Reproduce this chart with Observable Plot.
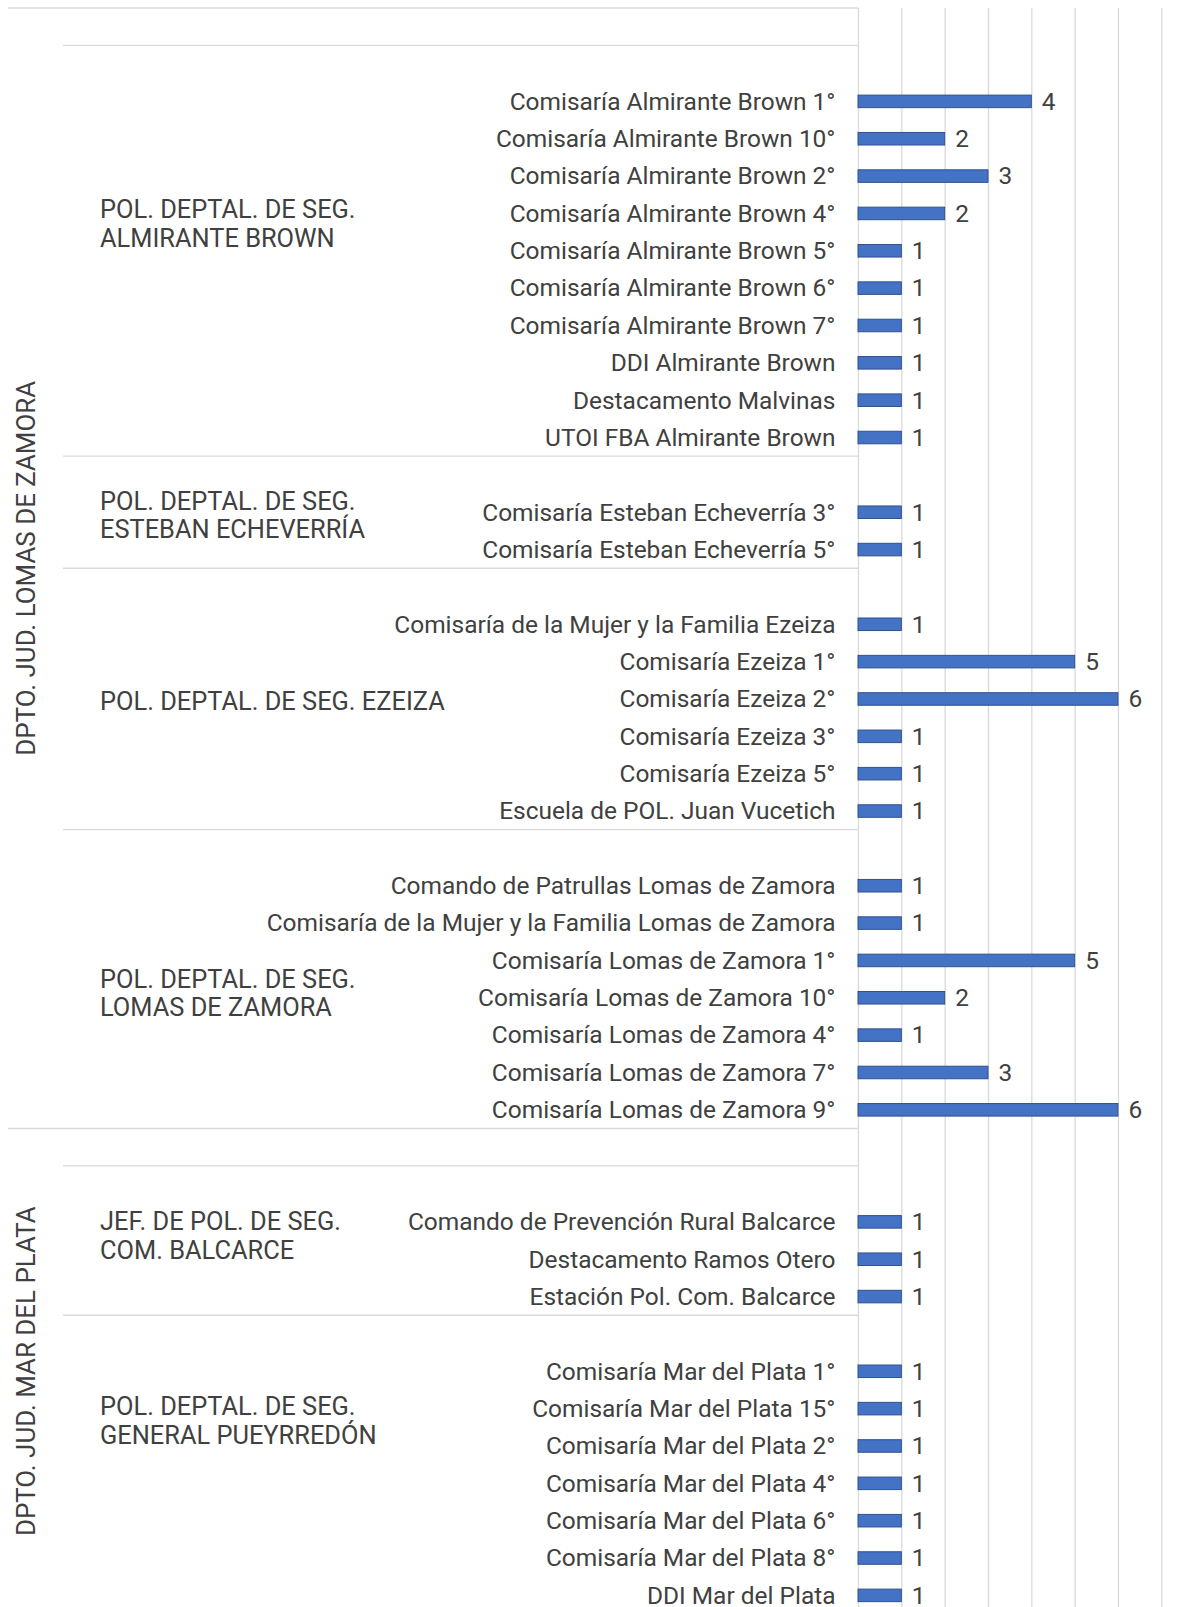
<!DOCTYPE html>
<html>
<head>
<meta charset="utf-8">
<script src="https://cdn.jsdelivr.net/npm/d3@7"></script>
<script src="https://cdn.jsdelivr.net/npm/@observablehq/plot@0.6"></script>
<style>
  html, body { margin: 0; padding: 0; background: #ffffff; overflow: hidden; }
  #chart svg { display: block; }
</style>
</head>
<body>
<div id="chart"></div>
<script>
// ---------------- DATA ----------------
const departamentos = ["DPTO. JUD. LOMAS DE ZAMORA", "DPTO. JUD. MAR DEL PLATA"];

const jefaturas = [
  "",
  "POL. DEPTAL. DE SEG.\nALMIRANTE BROWN",
  "POL. DEPTAL. DE SEG.\nESTEBAN ECHEVERRÍA",
  "POL. DEPTAL. DE SEG. EZEIZA",
  "POL. DEPTAL. DE SEG.\nLOMAS DE ZAMORA",
  "",
  "JEF. DE POL. DE SEG.\nCOM. BALCARCE",
  "POL. DEPTAL. DE SEG.\nGENERAL PUEYRREDÓN"
];
const jefaturaDepto = [0, 0, 0, 0, 0, 1, 1, 1];

const almiranteBrown = ["Comisaría Almirante Brown 1°", "Comisaría Almirante Brown 10°", "Comisaría Almirante Brown 2°", "Comisaría Almirante Brown 4°", "Comisaría Almirante Brown 5°", "Comisaría Almirante Brown 6°", "Comisaría Almirante Brown 7°", "DDI Almirante Brown", "Destacamento Malvinas", "UTOI FBA Almirante Brown"];
const almiranteBrownN = [4, 2, 3, 2, 1, 1, 1, 1, 1, 1];

const estebanEcheverria = ["Comisaría Esteban Echeverría 3°", "Comisaría Esteban Echeverría 5°"];
const estebanEcheverriaN = [1, 1];

const ezeiza = ["Comisaría de la Mujer y la Familia Ezeiza", "Comisaría Ezeiza 1°", "Comisaría Ezeiza 2°", "Comisaría Ezeiza 3°", "Comisaría Ezeiza 5°", "Escuela de POL. Juan Vucetich"];
const ezeizaN = [1, 5, 6, 1, 1, 1];

const lomasDeZamora = ["Comando de Patrullas Lomas de Zamora", "Comisaría de la Mujer y la Familia Lomas de Zamora", "Comisaría Lomas de Zamora 1°", "Comisaría Lomas de Zamora 10°", "Comisaría Lomas de Zamora 4°", "Comisaría Lomas de Zamora 7°", "Comisaría Lomas de Zamora 9°"];
const lomasDeZamoraN = [1, 1, 5, 2, 1, 3, 6];

const balcarce = ["Comando de Prevención Rural Balcarce", "Destacamento Ramos Otero", "Estación Pol. Com. Balcarce"];
const balcarceN = [1, 1, 1];

const pueyrredon = ["Comisaría Mar del Plata 1°", "Comisaría Mar del Plata 15°", "Comisaría Mar del Plata 2°", "Comisaría Mar del Plata 4°", "Comisaría Mar del Plata 6°", "Comisaría Mar del Plata 8°", "DDI Mar del Plata"];
const pueyrredonN = [1, 1, 1, 1, 1, 1, 1];

const xTicks = [0, 1, 2, 3, 4, 5, 6, 7];

// dependencias / valores per jefatura (same order as jefaturas)
const dependenciasPorJefatura = [[], almiranteBrown, estebanEcheverria, ezeiza, lomasDeZamora, [], balcarce, pueyrredon];
const valoresPorJefatura = [[], almiranteBrownN, estebanEcheverriaN, ezeizaN, lomasDeZamoraN, [], balcarceN, pueyrredonN];

// ---------------- BUILD ROWS ----------------
const rows = [];
jefaturas.forEach((jef, j) => {
  rows.push({key: "r" + rows.length, label: "", value: null, jef: j, depto: jefaturaDepto[j]});
  dependenciasPorJefatura[j].forEach((dep, i) => {
    rows.push({key: "r" + rows.length, label: dep, value: valoresPorJefatura[j][i], jef: j, depto: jefaturaDepto[j]});
  });
});
const keys = rows.map(d => d.key);
const labelByKey = new Map(rows.map(d => [d.key, d.label]));
const bars = rows.filter(d => d.value != null);

// ---------------- STYLE ----------------
const W = 1202, H = 1607;
const TOP = 8, ROW = 37.35;
const AXIS_X = 858, GRID_END = 1161.3;
const TEXT = "#404040", GRID = "#d9d9d9";
const FONT = "Roboto, 'Liberation Sans', sans-serif";
const groupLabelShift = [0, -27, 3, 2, 14, 0, -5, -44];

function fitFont(text, target) {
  const c = document.createElement("canvas").getContext("2d");
  c.font = "100px Roboto";
  return 100 * target / c.measureText(text).width;
}
const rowFont = fitFont("Comisaría Almirante Brown 1°", 326);
const jefFont = fitFont("POL. DEPTAL. DE SEG. EZEIZA", 345);
const deptoFont = fitFont("DPTO. JUD. LOMAS DE ZAMORA", 375);

// ---------------- LEFT TABLE (custom render using Plot's y scale) ----------------
function leftTable(index, scales, values, dimensions) {
  const y = scales.y;
  const bw = typeof y.bandwidth === "function" ? y.bandwidth() : (y(keys[1]) - y(keys[0]));
  const g = d3.create("svg:g");
  const span = pred => {
    const rs = rows.filter(pred);
    return [y(rs[0].key), y(rs[rs.length - 1].key) + bw];
  };
  const right = dimensions.marginLeft;
  // separator lines
  departamentos.forEach((d, k) => {
    const [t] = span(r => r.depto === k);
    g.append("line").attr("x1", 8).attr("x2", right).attr("y1", t).attr("y2", t)
      .attr("stroke", GRID).attr("stroke-width", 1.3);
  });
  jefaturas.forEach((jf, j) => {
    const first = jefaturaDepto.indexOf(jefaturaDepto[j]) === j;
    if (first) return;
    const [t] = span(r => r.jef === j);
    g.append("line").attr("x1", 63).attr("x2", right).attr("y1", t).attr("y2", t)
      .attr("stroke", GRID).attr("stroke-width", 1.3);
  });
  // jefatura labels
  const LH = 28.4;
  jefaturas.forEach((jf, j) => {
    if (!jf) return;
    const [t, b] = span(r => r.jef === j);
    const c = (t + b) / 2 + groupLabelShift[j];
    const lines = jf.split("\n");
    const txt = g.append("text").attr("fill", TEXT).attr("font-size", jefFont)
      .attr("font-family", FONT).attr("text-anchor", "start");
    lines.forEach((ln, i) => {
      txt.append("tspan").attr("x", 100)
        .attr("y", c - (lines.length - 1) * LH / 2 + i * LH)
        .attr("dy", "0.35em").text(ln);
    });
  });
  // departamento labels (rotated)
  departamentos.forEach((d, k) => {
    const [t, b] = span(r => r.depto === k);
    const c = (t + b) / 2;
    g.append("text").attr("fill", TEXT).attr("font-size", deptoFont).attr("font-family", FONT)
      .attr("text-anchor", "middle").attr("dy", "0.35em")
      .attr("transform", `translate(25.6,${c}) rotate(-90)`).text(d);
  });
  return g.node();
}

// ---------------- PLOT ----------------
const chart = Plot.plot({
  width: W,
  height: H,
  marginLeft: AXIS_X,
  marginRight: W - GRID_END,
  marginTop: TOP,
  marginBottom: 0,
  style: {fontFamily: FONT, color: TEXT, background: "#ffffff", fontSize: rowFont + "px"},
  x: {domain: [0, 7], axis: null},
  y: {domain: keys, range: [TOP, TOP + ROW * rows.length], padding: 0, round: false, axis: null},
  marks: [
    Plot.ruleX(xTicks, {stroke: GRID, strokeWidth: 1.3}),
    Plot.barX(bars, {x: "value", y: "key", fill: "#4472C4", stroke: "#2F528F", strokeWidth: 1, insetTop: 12.4, insetBottom: 12.4}),
    Plot.text(bars, {x: "value", y: "key", text: d => String(d.value), textAnchor: "start", dx: 10, fill: TEXT, fontSize: rowFont}),
    Plot.axisY({tickSize: 0, tickPadding: 23, tickFormat: k => labelByKey.get(k), fontSize: rowFont, fill: TEXT, label: null}),
    leftTable
  ]
});
document.getElementById("chart").appendChild(chart);
</script>
</body>
</html>
